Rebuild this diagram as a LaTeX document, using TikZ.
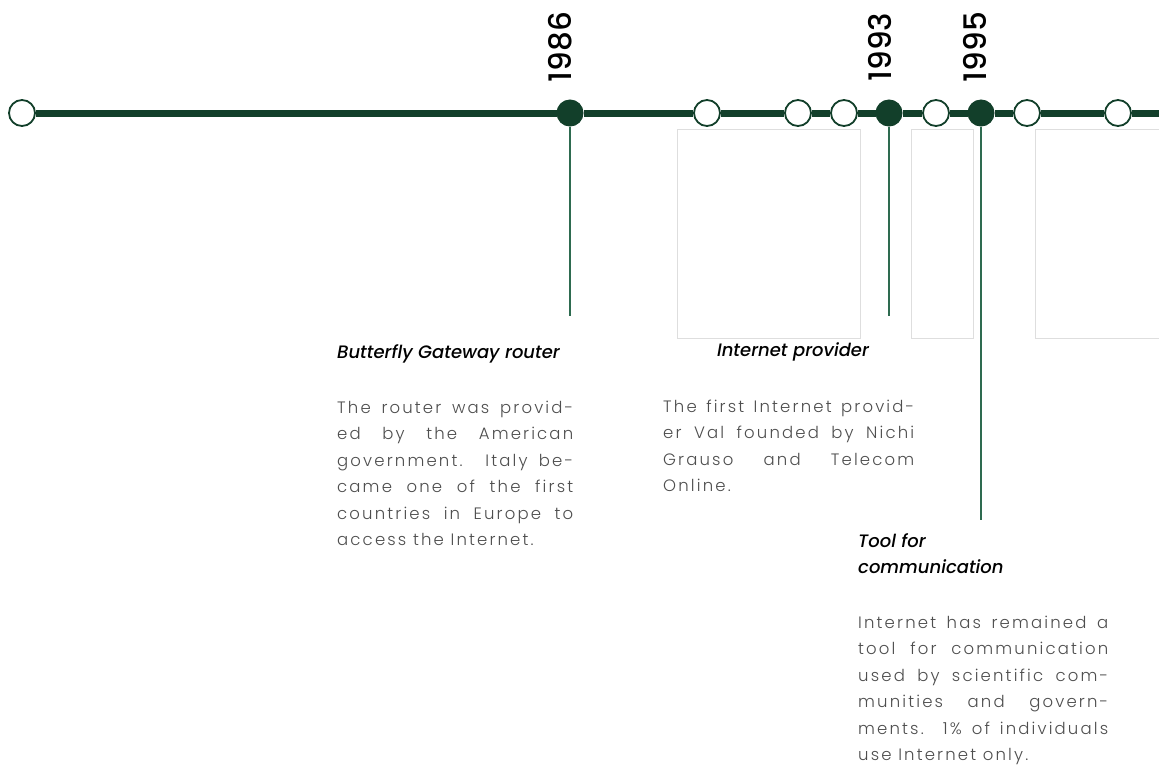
\documentclass[tikz,border=0pt]{standalone}
\usepackage{fontspec}
\setmainfont{Poppins}
\newfontfamily\yearfont{Poppins Medium}
\newfontfamily\titlefont{Poppins Medium}[ItalicFont={Poppins Medium Italic}]
\newfontfamily\bodyfont[LetterSpace=13]{Poppins Light}
\definecolor{rail}{HTML}{123F2A}
\definecolor{stem}{HTML}{2E6B50}
\definecolor{frame}{HTML}{DEDEDE}
\definecolor{bodygray}{HTML}{4E4E4E}
\tikzset{
  openstop/.style={circle, draw=rail, line width=1.8pt, fill=white, minimum size=26pt, inner sep=0pt},
  eventstop/.style={circle, draw=rail, fill=rail, line width=1pt, minimum size=26pt, inner sep=0pt},
  railline/.style={draw=rail, line width=7pt},
  stemline/.style={draw=stem, line width=1.8pt},
  panel/.style={draw=frame, fill=white, line width=1pt},
  yearlabel/.style={rotate=90, font=\yearfont\fontsize{31}{31}\selectfont, text=black, inner sep=0pt},
  eventtitle/.style={font=\titlefont\itshape\fontsize{18}{26}\selectfont, text=black, inner sep=0pt, anchor=base west},
  eventbody/.style={font=\bodyfont\fontsize{16.5}{26.5}\selectfont, text=bodygray, inner sep=0pt, anchor=base west, align=justify}
}
\begin{document}
\begin{tikzpicture}[x=1pt, y=-1pt]
\useasboundingbox (0,0) rectangle (1159,772);

% empty panels under the timeline
\path[panel] (677,129) rectangle (860,338);
\path[panel] (911,129) rectangle (973,338);
\path[panel] (1035,129) rectangle (1175,338);

% stops along the timeline
\node[openstop]  (s0) at (22,113) {};
\node[eventstop] (s1) at (570,113) {};
\node[openstop]  (s2) at (707,113) {};
\node[openstop]  (s3) at (798,113) {};
\node[openstop]  (s4) at (844,113) {};
\node[eventstop] (s5) at (889,113) {};
\node[openstop]  (s6) at (936,113) {};
\node[eventstop] (s7) at (981,113) {};
\node[openstop]  (s8) at (1027,113) {};
\node[openstop]  (s9) at (1118,113) {};
\coordinate (railend) at (1175,113);

\draw[railline] (s0) -- (s1) -- (s2) -- (s3) -- (s4) -- (s5) -- (s6) -- (s7) -- (s8) -- (s9) -- (railend);

% year labels
\node[yearlabel] (y1) at (560,47) {1986};
\node[yearlabel] (y2) at (880,47) {1993};
\node[yearlabel] (y3) at (975,47) {1995};

% stems down to the captions
\coordinate (e1) at (570,316);
\coordinate (e2) at (889,316);
\coordinate (e3) at (981,520);
\draw[stemline] (s1.south) -- (e1);
\draw[stemline] (s5.south) -- (e2);
\draw[stemline] (s7.south) -- (e3);

% captions
\node[eventtitle] (t1) at (337,358) {Butterfly Gateway router};
\node[eventbody, text width=236pt] (b1) at (337,413) {The router was provid-\linebreak ed by the American\linebreak government. Italy be-\linebreak came one of the first\linebreak countries in Europe to\linebreak access the Internet.};

\node[eventtitle, anchor=base] (t2) at (793,356) {Internet provider};
\node[eventbody, text width=251pt] (b2) at (663,412) {The first Internet provid-\linebreak er Val founded by Nichi\linebreak Grauso and Telecom\linebreak Online.};

\node[eventtitle, align=left] (t3) at (858,573) {Tool for\\communication};
\node[eventbody, text width=250pt] (b3) at (858,628) {Internet has remained a\linebreak tool for communication\linebreak used by scientific com-\linebreak munities and govern-\linebreak ments. 1\% of individuals\linebreak use Internet only.};
\end{tikzpicture}
\end{document}
